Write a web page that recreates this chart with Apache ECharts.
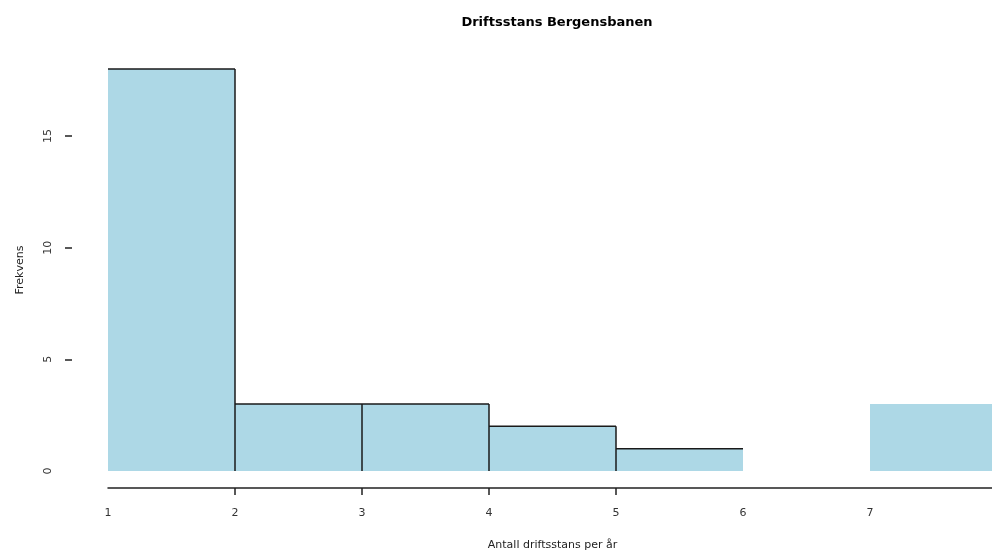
<!DOCTYPE html>
<html>
<head>
<meta charset="utf-8">
<script src="https://cdn.jsdelivr.net/npm/echarts@6/dist/echarts.min.js"></script>
<style>
  html, body { margin: 0; padding: 0; background: #fff; }
  #chart { width: 992px; height: 550px; }
</style>
</head>
<body>
<div id="chart"></div>
<script>
// histogram bins (left edge, right edge) and counts
const binStart = [1, 2, 3, 4, 5, 6, 7];
const binEnd = [2, 3, 4, 5, 6, 7, 8];
const counts = [18, 3, 3, 2, 1, 0, 3];
const xLabels = [1, 2, 3, 4, 5, 6, 7];
const xTicks = [2, 3, 4, 5];
const yLabels = [0, 5, 10, 15];
const yTicks = [5, 10, 15];

const chart = echarts.init(document.getElementById('chart'));

const bins = binStart.map((s, i) => [s, binEnd[i], counts[i], i]);

chart.setOption({
  animation: false,
  title: {
    text: 'Driftsstans Bergensbanen',
    left: 552,
    top: 11,
    textAlign: 'center',
    textStyle: { fontFamily: 'DejaVu Sans', fontSize: 13, fontWeight: 'bold', color: '#000' },
  },
  grid: { left: 108, right: -5, top: 69, bottom: 79, outerBoundsMode: 'none', containLabel: false },
  xAxis: {
    type: 'value',
    min: 1,
    max: 8,
    interval: 1,
    offset: 17,
    name: 'Antall driftsstans per år',
    nameLocation: 'middle',
    nameGap: 52,
    nameTextStyle: { fontFamily: 'DejaVu Sans', fontSize: 11, color: '#222' },
    splitLine: { show: false },
    axisLine: { onZero: false, lineStyle: { color: '#222', width: 1.5 } },
    axisTick: { length: 7, lineStyle: { color: '#222', width: 1.5 }, customValues: xTicks },
    axisLabel: { customValues: xLabels, margin: 20, fontFamily: 'DejaVu Sans', fontSize: 11, color: '#333' },
  },
  yAxis: {
    type: 'value',
    min: 0,
    max: 18,
    interval: 5,
    offset: 36,
    name: 'Frekvens',
    nameLocation: 'middle',
    nameRotate: 90,
    nameGap: 46,
    nameTextStyle: { fontFamily: 'DejaVu Sans', fontSize: 11, color: '#222' },
    splitLine: { show: false },
    axisLine: { show: false, onZero: false },
    axisTick: { show: true, length: 7, lineStyle: { color: '#222', width: 1.5 }, customValues: yTicks },
    axisLabel: { customValues: yLabels, rotate: 90, margin: 18, fontFamily: 'DejaVu Sans', fontSize: 11, color: '#333' },
  },
  series: [{
    type: 'custom',
    clip: false,
    data: bins,
    renderItem(params, api) {
      const n = api.value(2);
      const idx = api.value(3);
      if (!n) return null;
      const tl = api.coord([api.value(0), n]);
      const br = api.coord([api.value(1), 0]);
      const children = [{
        type: 'rect',
        shape: { x: tl[0], y: tl[1], width: br[0] - tl[0], height: br[1] - tl[1] },
        style: { fill: '#ADD8E6' },
      }];
      const line = { stroke: '#1a1a1a', lineWidth: 1.5 };
      if (idx <= 4) {
        children.push({ type: 'line', z2: 10, shape: { x1: tl[0], y1: tl[1], x2: br[0], y2: tl[1] }, style: line });
      }
      if (idx <= 3) {
        children.push({ type: 'line', z2: 10, shape: { x1: br[0], y1: tl[1], x2: br[0], y2: br[1] }, style: line });
      }
      return { type: 'group', children };
    },
  }],
});
</script>
</body>
</html>
